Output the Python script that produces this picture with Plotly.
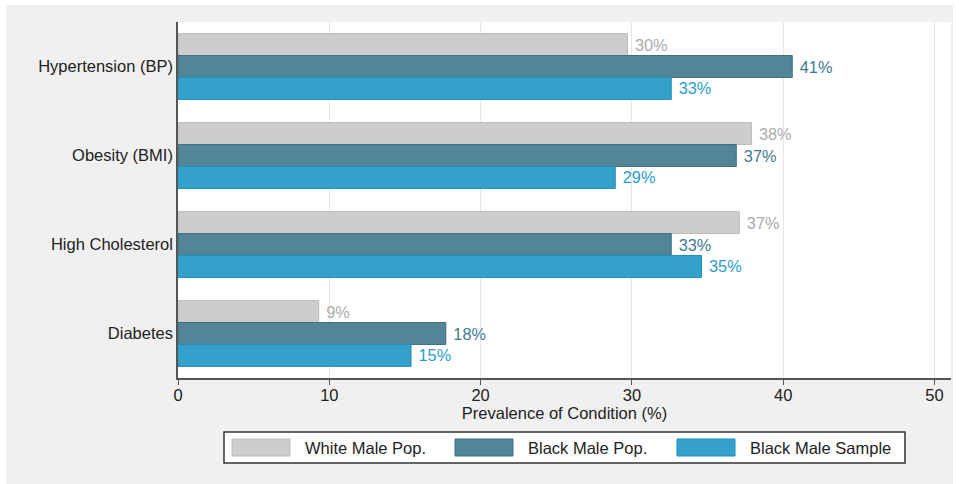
import plotly.graph_objects as go

# Data
conditions = ["Hypertension (BP)", "Obesity (BMI)", "High Cholesterol", "Diabetes"]
series_names = ["White Male Pop.", "Black Male Pop.", "Black Male Sample"]
white_male_pop = [29.7, 37.9, 37.1, 9.3]
black_male_pop = [40.6, 36.9, 32.6, 17.7]
black_male_sample = [32.6, 28.9, 34.6, 15.4]
x_ticks = [0, 10, 20, 30, 40, 50]

series_values = [white_male_pop, black_male_pop, black_male_sample]
fills = ["#cdcdcd", "#528597", "#33a1ca"]
outlines = ["#bcbcbc", "#3c7083", "#1f8fbd"]
label_colors = ["#ababab", "#3f7a8f", "#2a9dc9"]

W, H = 959, 484
ML, MR, MT, MB = 178, 8, 22, 106
PW, PH = W - ML - MR, H - MT - MB
FONT = "Liberation Sans, Arial"

def px(x):
    return (x - ML) / PW

def py(y):
    return (H - MB - y) / PH

fig = go.Figure()
for name, vals, fc, lc, tc in zip(series_names, series_values, fills, outlines, label_colors):
    fig.add_trace(go.Bar(
        y=conditions, x=vals, name=name, orientation="h",
        marker=dict(color=fc, line=dict(color=lc, width=1)),
        texttemplate=" %{x:.0f}%", textposition="outside",
        textfont=dict(color=tc, size=16.3, family=FONT),
        cliponaxis=False, showlegend=False,
    ))

shapes = [
    # light gray graph region
    dict(type="rect", xref="paper", yref="paper", layer="below",
         x0=px(6), x1=px(953), y0=py(484), y1=py(5),
         fillcolor="#f0f0f0", line=dict(width=0)),
    # white plot region
    dict(type="rect", xref="paper", yref="paper", layer="below",
         x0=0, x1=1, y0=0, y1=1,
         fillcolor="white", line=dict(width=0)),
    # legend box
    dict(type="rect", xref="paper", yref="paper",
         x0=px(224), x1=px(905), y0=py(463), y1=py(432),
         fillcolor="white", line=dict(color="#333333", width=1.5)),
]
annotations = []
swatch_x = [232, 455, 677]
for sx, name, fc, lc in zip(swatch_x, series_names, fills, outlines):
    shapes.append(dict(type="rect", xref="paper", yref="paper",
                       x0=px(sx), x1=px(sx + 58), y0=py(456), y1=py(439),
                       fillcolor=fc, line=dict(color=lc, width=1)))
    annotations.append(dict(xref="paper", yref="paper", x=px(sx + 71), y=py(448),
                            text=name, showarrow=False, xanchor="left", yanchor="middle",
                            font=dict(size=16.5, color="#222222", family=FONT)))

fig.update_layout(
    width=W, height=H,
    margin=dict(l=ML, r=MR, t=MT, b=MB),
    paper_bgcolor="white", plot_bgcolor="white",
    barmode="group", bargap=0.26, bargroupgap=0,
    font=dict(family=FONT, size=16.5, color="#222222"),
    shapes=shapes, annotations=annotations,
    xaxis=dict(range=[0, PW / 15.13], tickvals=x_ticks, showgrid=True,
               gridcolor="#e6e6e6", gridwidth=1, zeroline=False,
               showline=True, linecolor="#555555", linewidth=1.5,
               ticks="outside", ticklen=5, tickcolor="#555555",
               ticklabelstandoff=-4, tickfont=dict(size=16.5),
               title=dict(text="Prevalence of Condition (%)", standoff=2,
                          font=dict(size=16.5))),
    yaxis=dict(autorange="reversed", showgrid=False, zeroline=False,
               showline=True, linecolor="#555555", linewidth=1.5,
               ticks="", tickfont=dict(size=16.5)),
)

fig.write_html("out.html")
